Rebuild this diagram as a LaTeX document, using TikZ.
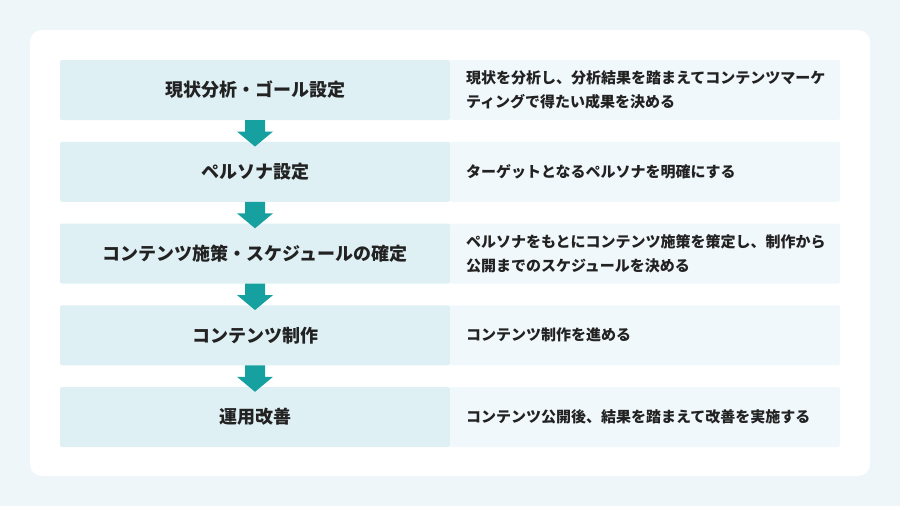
\documentclass[tikz,border=0pt]{standalone}
\usepackage{fontspec}
\setmainfont{Noto Sans CJK JP}
\usepackage{tikz}
\usetikzlibrary{calc}

\definecolor{pagebg}{HTML}{EEF6FA}
\definecolor{stepfill}{HTML}{DFF0F5}
\definecolor{descfill}{HTML}{F1F8FB}
\definecolor{flowteal}{HTML}{17A0A0}
\definecolor{ink}{HTML}{222222}

\begin{document}
\begin{tikzpicture}[x=1pt, y=-1pt]
  \tikzstyle{stepbox} = [rectangle, fill=stepfill, minimum width=390pt, minimum height=60pt, inner sep=0pt, rounded corners=2pt, text=ink, font=\fontsize{18}{22}\selectfont\bfseries]
  \tikzstyle{descbox} = [rectangle, fill=descfill, text width=358pt, inner xsep=16pt, inner ysep=0pt, minimum height=60pt, align=left, rounded corners=2pt, text=ink, font=\fontsize{15}{24}\selectfont\bfseries]
  \tikzstyle{flow} = [fill=flowteal]

  \fill[pagebg] (0,0) rectangle (900,506);
  \fill[white, rounded corners=12pt] (30,30) rectangle (870,476);

  \node[stepbox] (s1) at (255,90) {現状分析・ゴール設定};
  \node[stepbox] (s2) at (255,171.75) {ペルソナ設定};
  \node[stepbox] (s3) at (255,253.5) {コンテンツ施策・スケジュールの確定};
  \node[stepbox] (s4) at (255,335.25) {コンテンツ制作};
  \node[stepbox] (s5) at (255,417) {運用改善};

  \node[descbox] (d1) at (645,90) {現状を分析し、分析結果を踏まえてコンテンツマーケ\\ティングで得たい成果を決める};
  \node[descbox] (d2) at (645,171.75) {ターゲットとなるペルソナを明確にする};
  \node[descbox] (d3) at (645,253.5) {ペルソナをもとにコンテンツ施策を策定し、制作から\\公開までのスケジュールを決める};
  \node[descbox] (d4) at (645,335.25) {コンテンツ制作を進める};
  \node[descbox] (d5) at (645,417) {コンテンツ公開後、結果を踏まえて改善を実施する};

  \foreach \a/\b in {s1/s2, s2/s3, s3/s4, s4/s5}
    \fill[flow] ($(\a.south)+(-10,0)$) -- ($(\b.north)+(-10,-10)$) -- ($(\b.north)+(-18,-10)$)
      -- ($(\b.north)+(0,5)$) -- ($(\b.north)+(18,-10)$) -- ($(\b.north)+(10,-10)$)
      -- ($(\a.south)+(10,0)$) -- cycle;
\end{tikzpicture}
\end{document}
